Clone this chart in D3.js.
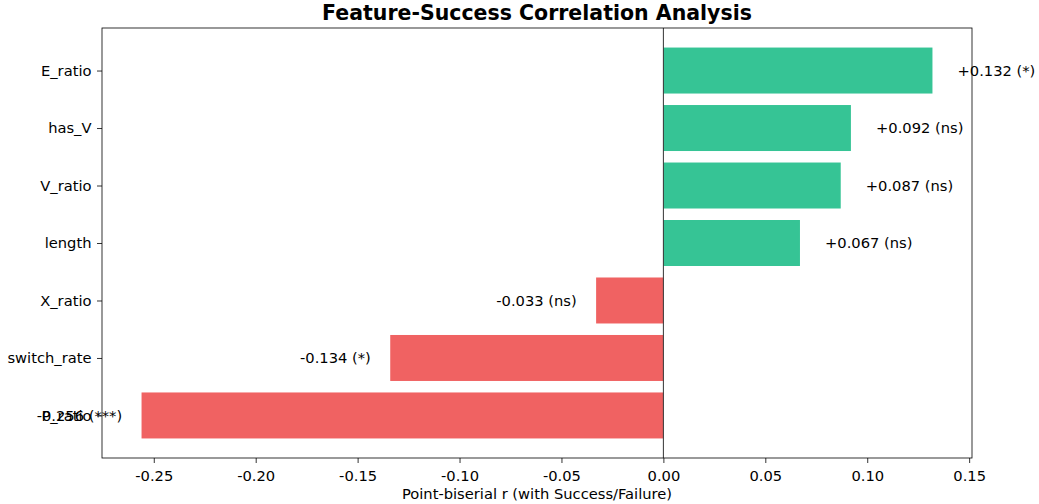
<!DOCTYPE html>
<html>
<head>
<meta charset="utf-8">
<script src="https://cdn.jsdelivr.net/npm/d3@7"></script>
<style>
  body { margin: 0; background: #fff; }
  text { font-family: "DejaVu Sans", sans-serif; }
</style>
</head>
<body>
<div id="chart"></div>
<script>
// Data, top to bottom
var features = ["E_ratio", "has_V", "V_ratio", "length", "X_ratio", "switch_rate", "P_ratio"];
var correlations = [0.132, 0.092, 0.087, 0.067, -0.033, -0.134, -0.256];
var significance = ["*", "ns", "ns", "ns", "ns", "*", "***"];
var xTicks = [-0.25, -0.20, -0.15, -0.10, -0.05, 0.00, 0.05, 0.10, 0.15];

var width = 1039, height = 504;
var margin = { top: 28, right: 67, bottom: 46, left: 102 };
var plotW = width - margin.left - margin.right;
var plotH = height - margin.top - margin.bottom;
var fs = "14.7px";

var svg = d3.select("#chart").append("svg")
  .attr("width", width)
  .attr("height", height);

var g = svg.append("g")
  .attr("transform", "translate(" + margin.left + "," + margin.top + ")");

// matplotlib-like 5% margins
var lo = d3.min(correlations), hi = d3.max(correlations);
var pad = (hi - lo) * 0.05;
var x = d3.scaleLinear().domain([lo - pad, hi + pad]).range([0, plotW]);

// bar positions: index 0 at the top, bar height 0.8
var y = d3.scaleLinear().domain([-0.74, 6.74]).range([0, plotH]);

g.selectAll("rect.bar")
  .data(correlations)
  .enter().append("rect")
  .attr("class", "bar")
  .attr("x", function (d) { return x(Math.min(0, d)); })
  .attr("width", function (d) { return Math.abs(x(d) - x(0)); })
  .attr("y", function (d, i) { return y(i - 0.4); })
  .attr("height", y(0.8) - y(0))
  .attr("fill", function (d) { return d >= 0 ? "#36c495" : "#f06262"; });

// zero line
g.append("line")
  .attr("x1", x(0)).attr("x2", x(0))
  .attr("y1", 0).attr("y2", plotH)
  .attr("stroke", "#333")
  .attr("stroke-width", 1);

// value labels
g.selectAll("text.val")
  .data(correlations)
  .enter().append("text")
  .attr("class", "val")
  .attr("x", function (d) { return d >= 0 ? x(d + 0.0123) : x(d - 0.0095); })
  .attr("y", function (d, i) { return y(i); })
  .attr("dy", "0.35em")
  .attr("text-anchor", function (d) { return d >= 0 ? "start" : "end"; })
  .style("font-size", fs)
  .text(function (d, i) {
    return (d >= 0 ? "+" : "") + d.toFixed(3) + " (" + significance[i] + ")";
  });

// x axis
var xAxis = d3.axisBottom(x)
  .tickValues(xTicks)
  .tickFormat(d3.format(".2f"))
  .tickSize(5)
  .tickSizeOuter(0);
var gx = g.append("g")
  .attr("transform", "translate(0," + plotH + ")")
  .call(xAxis);
gx.select(".domain").remove();
gx.selectAll("text").style("font-size", fs).attr("dy", "1.0em")
  .text(function (d) { return d < 0 ? "-" + d3.format(".2f")(-d) : d3.format(".2f")(d); });

// y axis
var yAxis = d3.axisLeft(y)
  .tickValues(d3.range(features.length))
  .tickFormat(function (i) { return features[i]; })
  .tickSize(5)
  .tickSizeOuter(0);
var gy = g.append("g").call(yAxis);
gy.select(".domain").remove();
gy.selectAll("text").style("font-size", fs).attr("x", -10.5);
g.selectAll(".tick line").attr("stroke", "#000").attr("stroke-width", 0.8);

// frame
g.append("rect")
  .attr("width", plotW).attr("height", plotH)
  .attr("fill", "none")
  .attr("stroke", "#000")
  .attr("stroke-width", 0.8);

// titles
svg.append("text")
  .attr("x", margin.left + plotW / 2)
  .attr("y", 20)
  .attr("text-anchor", "middle")
  .style("font-size", "20.5px")
  .style("font-weight", "bold")
  .text("Feature-Success Correlation Analysis");

svg.append("text")
  .attr("x", margin.left + plotW / 2)
  .attr("y", 499)
  .attr("text-anchor", "middle")
  .style("font-size", fs)
  .text("Point-biserial r (with Success/Failure)");
</script>
</body>
</html>
